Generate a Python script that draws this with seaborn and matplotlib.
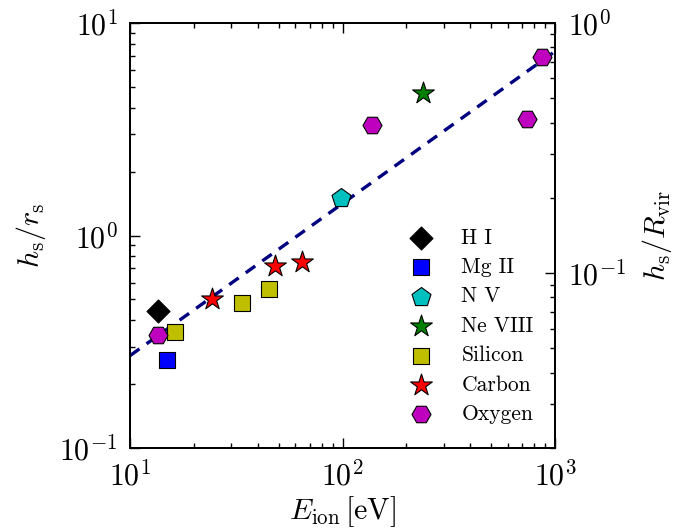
import numpy as np
import pandas as pd
import matplotlib
matplotlib.use("Agg")
import matplotlib.pyplot as plt
import seaborn as sns
from matplotlib.ticker import LogLocator, NullFormatter

# ---- data ----
hi_E = [13.6];   hi_h = [0.44]
mg_E = [15.0];   mg_h = [0.26]
nv_E = [97.9];   nv_h = [1.50]
ne_E = [239.1];  ne_h = [4.7]
si_E = [16.3, 33.5, 45.1];          si_h = [0.35, 0.48, 0.56]
c_E = [24.4, 47.9, 64.5];           c_h = [0.50, 0.72, 0.75]
o_E = [13.6, 138.1, 739.3, 871.4];  o_h = [0.34, 3.31, 3.52, 6.90]
fit_E = [10, 1000]
fit_h = [0.272, 7.35]

labels = ["H I", "Mg II", "N V", "Ne VIII", "Silicon", "Carbon", "Oxygen"]
xs = [hi_E, mg_E, nv_E, ne_E, si_E, c_E, o_E]
ys = [hi_h, mg_h, nv_h, ne_h, si_h, c_h, o_h]
markers = ["D", "s", "p", "*", "s", "*", "H"]
colors = ["k", "b", "c", "g", "y", "r", "m"]
sizes = [137, 128, 207, 270, 128, 270, 188]

sns.set_style("ticks")
plt.rcParams.update({
    "font.family": "serif",
    "font.serif": ["cmr10", "DejaVu Serif"],
    "mathtext.fontset": "cm",
    "axes.formatter.use_mathtext": True,
    "axes.unicode_minus": False,
    "axes.linewidth": 1.3,
    "axes.edgecolor": "black",
    "axes.labelcolor": "black",
    "text.color": "black",
    "xtick.color": "black",
    "ytick.color": "black",
    "xtick.direction": "in",
    "ytick.direction": "in",
})

fig = plt.figure(figsize=(6.74, 5.31), dpi=100)
ax = fig.add_axes([130/674, 1-448/531, 425/674, 425/531])

sns.lineplot(x=fit_E, y=fit_h, ax=ax, color="#000080", lw=2.4,
             linestyle=(0, (3.5, 2.6)), legend=False, zorder=2)

for lab, x, y, m, c, s in zip(labels, xs, ys, markers, colors, sizes):
    sns.scatterplot(x=x, y=y, ax=ax, marker=m, color=c, s=s, label=lab,
                    edgecolor="black", linewidth=0.8, zorder=3)

ax.set_xscale("log")
ax.set_yscale("log")
ax.set_xlim(10, 1000)
ax.set_ylim(0.1, 10)
ax.xaxis.set_minor_locator(LogLocator(base=10, subs=np.arange(2, 10)))
ax.yaxis.set_minor_locator(LogLocator(base=10, subs=np.arange(2, 10)))
ax.xaxis.set_minor_formatter(NullFormatter())
ax.yaxis.set_minor_formatter(NullFormatter())
ax.tick_params(which="both", direction="in", top=True, right=False,
               labelsize=21.5, width=1.0, colors="black")
ax.tick_params(which="major", length=7, pad=9)
ax.tick_params(which="minor", length=3.5)
ax.set_xlabel(r"$E_{\rm ion}\,[{\rm eV}]$", fontsize=21.5, labelpad=2)
ax.set_ylabel(r"$h_{\rm s}/r_{\rm s}$", fontsize=21.5, labelpad=8)

ax2 = ax.twinx()
ax2.set_yscale("log")
ax2.set_ylim(0.02, 1.0)
ax2.yaxis.set_minor_locator(LogLocator(base=10, subs=np.arange(2, 10)))
ax2.yaxis.set_minor_formatter(NullFormatter())
ax2.tick_params(which="both", direction="in", right=True, labelsize=21.5,
                width=1.0, colors="black")
ax2.tick_params(which="major", length=7, pad=9)
ax2.tick_params(which="minor", length=3.5)
ax2.set_ylabel(r"$h_{\rm s}/R_{\rm vir}$", fontsize=21.5, labelpad=10)

ax.legend(loc="upper left", bbox_to_anchor=((399 - 130) / 425, (448 - 228) / 425),
          frameon=False, fontsize=15.5, handlelength=2.0, handletextpad=0.9,
          labelspacing=0.46, borderaxespad=0, borderpad=0, scatterpoints=1)

fig.savefig("out.png", dpi=100, facecolor="white")
